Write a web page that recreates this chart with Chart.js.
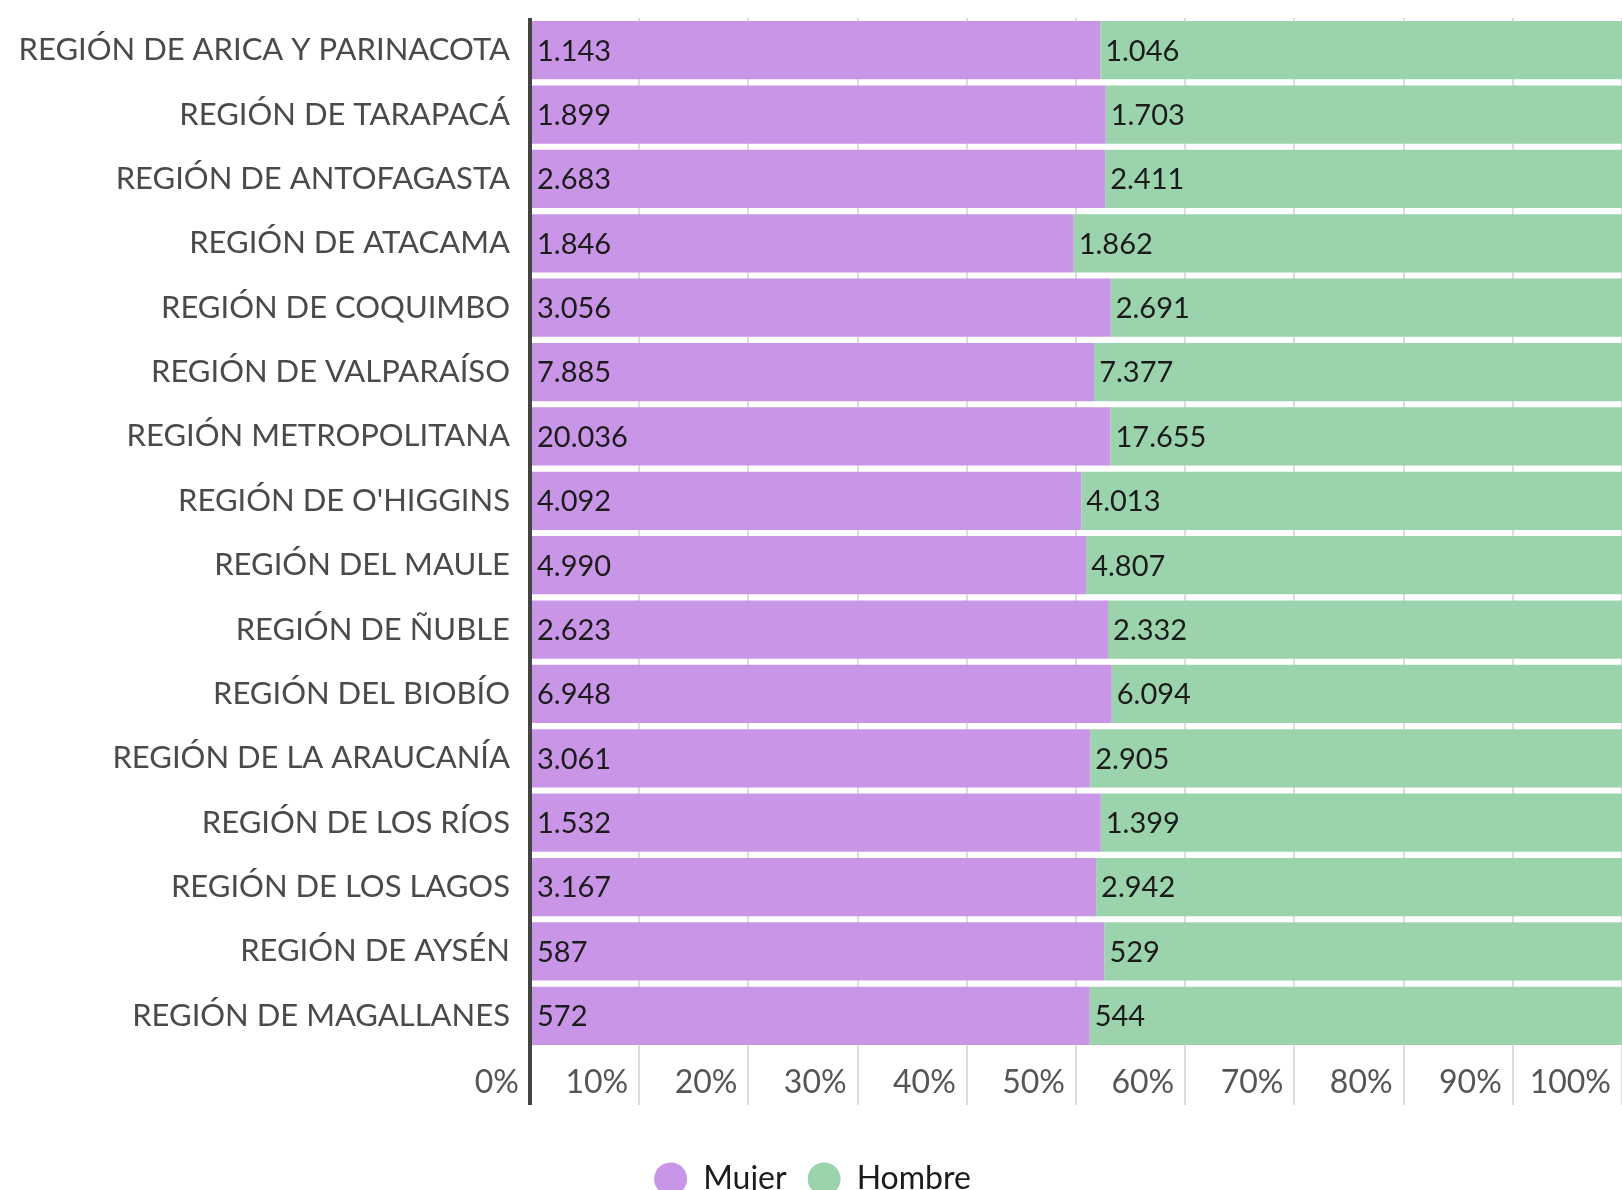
<!DOCTYPE html>
<html>
<head>
<meta charset="utf-8">
<script src="https://cdn.jsdelivr.net/npm/chart.js@4.4.1/dist/chart.umd.min.js"></script>
<style>
body{margin:0;overflow:hidden;background:#fff}
#wrap{width:1622px;height:1205px}
</style>
</head>
<body>
<div id="wrap"><canvas id="regionChart"></canvas></div>
<script>
var regiones = [
  'REGIÓN DE ARICA Y PARINACOTA', 'REGIÓN DE TARAPACÁ', 'REGIÓN DE ANTOFAGASTA',
  'REGIÓN DE ATACAMA', 'REGIÓN DE COQUIMBO', 'REGIÓN DE VALPARAÍSO',
  'REGIÓN METROPOLITANA', "REGIÓN DE O'HIGGINS", 'REGIÓN DEL MAULE',
  'REGIÓN DE ÑUBLE', 'REGIÓN DEL BIOBÍO', 'REGIÓN DE LA ARAUCANÍA',
  'REGIÓN DE LOS RÍOS', 'REGIÓN DE LOS LAGOS', 'REGIÓN DE AYSÉN', 'REGIÓN DE MAGALLANES'
];
var mujer = [1143, 1899, 2683, 1846, 3056, 7885, 20036, 4092, 4990, 2623, 6948, 3061, 1532, 3167, 587, 572];
var hombre = [1046, 1703, 2411, 1862, 2691, 7377, 17655, 4013, 4807, 2332, 6094, 2905, 1399, 2942, 529, 544];
var tickLabels = ['0%', '10%', '20%', '30%', '40%', '50%', '60%', '70%', '80%', '90%', '100%'];

Chart.defaults.font.family = 'Lato';
Chart.defaults.color = '#555';

// percent of each region total
var pctMujer = mujer.map(function(v, i){ return v / (v + hombre[i]) * 100; });
var pctHombre = hombre.map(function(v, i){ return v / (mujer[i] + v) * 100; });

function fmt(n){
  return String(n).replace(/\B(?=(\d{3})+(?!\d))/g, '.');
}

var valueLabels = {
  id: 'valueLabels',
  afterDatasetsDraw: function(chart){
    var ctx = chart.ctx;
    ctx.save();
    ctx.font = '29px Lato';
    ctx.fillStyle = '#1b1b1b';
    ctx.textAlign = 'left';
    ctx.textBaseline = 'middle';
    chart.data.datasets.forEach(function(ds, d){
      var meta = chart.getDatasetMeta(d);
      meta.data.forEach(function(bar, i){
        var p = bar.getProps(['x', 'y', 'base'], true);
        ctx.fillText(fmt(ds.raw[i]), Math.min(p.x, p.base) + 5, p.y + 1);
      });
    });
    ctx.restore();
  }
};

var ctx = document.getElementById('regionChart').getContext('2d');
var regionChart = new Chart(ctx, {
  type: 'bar',
  data: {
    labels: regiones,
    datasets: [
      { label: 'Mujer', data: pctMujer, raw: mujer, backgroundColor: '#c995e6' },
      { label: 'Hombre', data: pctHombre, raw: hombre, backgroundColor: '#9bd4ac' }
    ]
  },
  options: {
    indexAxis: 'y',
    responsive: true,
    maintainAspectRatio: false,
    animation: false,
    layout: { padding: { top: 18, right: -3, left: 0, bottom: 0 } },
    datasets: { bar: { barPercentage: 0.904, categoryPercentage: 1 } },
    scales: {
      x: {
        stacked: true,
        min: 0,
        max: 100,
        border: { display: false },
        grid: {
          tickLength: 57,
          color: function(c){ return c.index === 0 ? '#444' : '#dcdcdc'; },
          lineWidth: function(c){ return c.index === 0 ? 4 : 2; }
        },
        ticks: {
          stepSize: 10,
          align: 'end',
          labelOffset: -11,
          padding: -42,
          color: '#555',
          font: { size: 32 },
          callback: function(v, i){ return tickLabels[i]; }
        },
        afterFit: function(scale){ scale.height = 94; }
      },
      y: {
        stacked: true,
        border: { display: false },
        grid: { display: false },
        ticks: { padding: 12, color: '#4a4a4a', font: { size: 31 } },
        afterFit: function(scale){
          scale.width = 530;
          scale.paddingTop = 0;
          scale.paddingBottom = 0;
        }
      }
    },
    plugins: {
      tooltip: { enabled: false },
      legend: {
        position: 'bottom',
        labels: {
          usePointStyle: true,
          pointStyle: 'circle',
          pointStyleWidth: 33,
          boxHeight: 23.3,
          padding: 21,
          color: '#1b1b1b',
          font: { size: 32 }
        }
      }
    }
  },
  plugins: [valueLabels]
});
</script>
</body>
</html>
